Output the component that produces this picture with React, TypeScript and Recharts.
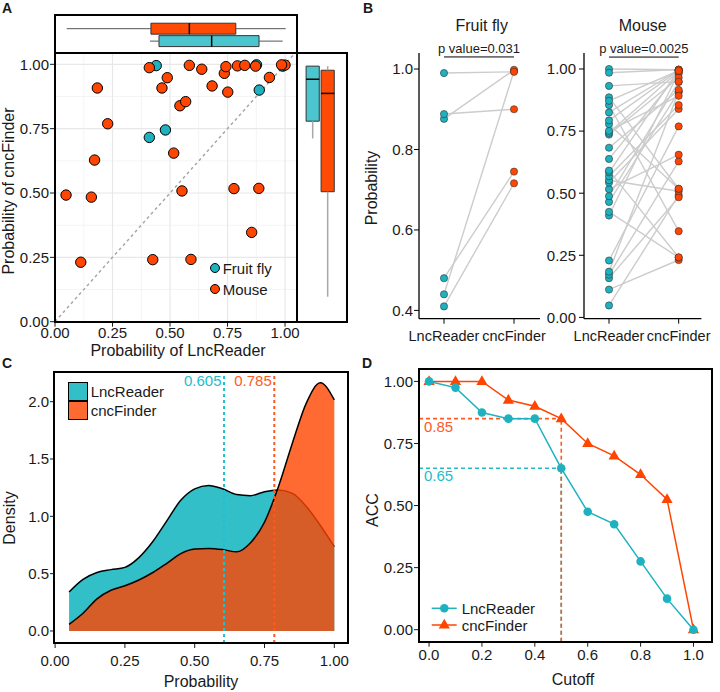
import React from 'react';
import {
  ComposedChart,
  ScatterChart,
  LineChart,
  Scatter,
  Line,
  Area,
  XAxis,
  YAxis,
  CartesianGrid,
  ReferenceLine,
  ReferenceArea,
} from 'recharts';

const FONT = '"Liberation Sans", Arial, sans-serif';
const INK = '#1a1a1a';
const TEAL = '#1EB2C0';
const ORANGE = '#FF4500';
const BOX_TEAL = '#4CC6CE';
const BOX_ORANGE = '#FF4A05';

// A / B : probability per transcript, LncReader vs cncFinder
const flyLnc = [0.41, 0.44, 0.48, 0.876, 0.888, 0.99];
const flyCnc = [0.716, 0.995, 0.745, 0.998, 0.9, 0.993];
const mouseLnc = [
  0.048, 0.112, 0.158, 0.172, 0.184, 0.229, 0.41, 0.425, 0.465, 0.488, 0.516, 0.543, 0.552, 0.568, 0.584,
  0.591, 0.638, 0.683, 0.736, 0.743, 0.751, 0.778, 0.793, 0.825, 0.855, 0.886, 0.932, 1.0, 0.985, 0.872,
];
const mouseCnc = [
  0.492, 0.231, 0.484, 0.628, 0.908, 0.769, 0.987, 0.241, 0.908, 0.948, 0.655, 0.839, 0.508, 0.855, 0.996,
  0.242, 0.981, 0.916, 0.965, 0.991, 0.892, 0.517, 0.994, 0.996, 0.347, 0.518, 0.949, 0.997, 0.998, 0.993,
];

// marginal boxplots [min, q1, median, q3, max]
const lncBoxFly = [0.413, 0.452, 0.681, 0.887, 0.99];
const lncBoxMouse = [0.051, 0.417, 0.584, 0.786, 1.003];
const cncBoxFly = [0.712, 0.779, 0.942, 0.993, 0.993];
const cncBoxMouse = [0.097, 0.505, 0.887, 0.977, 0.993];

const methods = ['LncReader', 'cncFinder'];
const pFly = 'p value=0.031';
const pMouse = 'p value=0.0025';

// C : density of probabilities
const densX = [0.05, 0.1, 0.15, 0.2, 0.25, 0.3, 0.35, 0.4, 0.45, 0.5, 0.55, 0.6, 0.65, 0.7, 0.75, 0.8, 0.85, 0.9, 0.95, 1.0];
const lncDensity = [0.34, 0.45, 0.51, 0.535, 0.555, 0.64, 0.78, 0.96, 1.14, 1.24, 1.27, 1.24, 1.19, 1.18, 1.215, 1.23, 1.2, 1.085, 0.92, 0.735];
const cncDensity = [0.058, 0.154, 0.28, 0.355, 0.395, 0.445, 0.51, 0.59, 0.675, 0.715, 0.72, 0.71, 0.69, 0.77, 0.95, 1.26, 1.64, 1.99, 2.165, 2.015];
const lncMedian = 0.605;
const cncMedian = 0.785;

// D : accuracy vs cutoff
const cutoffs = [0, 0.1, 0.2, 0.3, 0.4, 0.5, 0.6, 0.7, 0.8, 0.9, 1.0];
const accLnc = [1.0, 0.975, 0.875, 0.85, 0.85, 0.65, 0.475, 0.425, 0.275, 0.125, 0.0];
const accCnc = [1.0, 1.0, 1.0, 0.925, 0.9, 0.85, 0.75, 0.7, 0.625, 0.525, 0.0];
const cutAt = 0.5;
const accLncAt = 0.65;
const accCncAt = 0.85;

const ticks4 = [0, 0.25, 0.5, 0.75, 1];
const minor4 = [0.125, 0.375, 0.625, 0.875];

const flyPts = flyLnc.map((x, i) => ({ x, y: flyCnc[i] }));
const mousePts = mouseLnc.map((x, i) => ({ x, y: mouseCnc[i] }));
const densRows = densX.map((x, i) => ({ x, lnc: lncDensity[i], cnc: cncDensity[i] }));
const accRows = cutoffs.map((c, i) => ({ cut: c, lnc: accLnc[i], cnc: accCnc[i] }));

const f1 = (v: number) => v.toFixed(1);
const f2 = (v: number) => v.toFixed(2);
const tick = { fontSize: 15, fill: INK, fontFamily: FONT };
const tickB = { fontSize: 14.5, fill: INK, fontFamily: FONT };

type Rect = { l: number; t: number; r: number; b: number };
const PAD = 3;
function geom(p: Rect, padL: number, padB: number, padT = PAD, padR = PAD) {
  return {
    pos: { position: 'absolute' as const, left: p.l - padL, top: p.t - padT },
    width: p.r - p.l + padL + padR,
    height: p.b - p.t + padT + padB,
    margin: { top: padT, right: padR, left: 0, bottom: 0 },
  };
}

function Frame({ p }: { p: Rect }) {
  return (
    <div
      style={{
        position: 'absolute',
        left: p.l - 1,
        top: p.t - 1,
        width: p.r - p.l + 2,
        height: p.b - p.t + 2,
        border: '2px solid #000',
        boxSizing: 'border-box',
        pointerEvents: 'none',
      }}
    />
  );
}

function Txt(props: { x: number; y: number; text: string; size?: number; color?: string; rotate?: boolean; anchor?: string; bold?: boolean }) {
  const { x, y, text, size = 15, color = INK, rotate = false, anchor = 'middle', bold = false } = props;
  const tx = anchor === 'middle' ? '-50%' : anchor === 'end' ? '-100%' : '0';
  return (
    <div
      style={{
        position: 'absolute',
        left: x,
        top: y,
        transform: `translate(${tx}, -50%)${rotate ? ' rotate(-90deg)' : ''}`,
        whiteSpace: 'nowrap',
        fontSize: size,
        lineHeight: 1,
        fontFamily: FONT,
        color,
        fontWeight: bold ? 700 : 400,
      }}
    >
      {text}
    </div>
  );
}

const RefText = (props: any) => {
  const { viewBox, txt, color, ox, oy, anchor } = props;
  if (!viewBox) return null;
  return (
    <text x={viewBox.x + ox} y={viewBox.y + oy} textAnchor={anchor} fill={color} fontSize={15} fontFamily={FONT}>
      {txt}
    </text>
  );
};

const noDot = () => <g />;
const dotA = (p: any) => <circle cx={p.cx} cy={p.cy} r={5.2} fill={p.fill} stroke="#000" strokeWidth={1} />;
const dotB = (p: any) => <circle cx={p.cx} cy={p.cy} r={3.6} fill={p.fill} stroke="#333" strokeWidth={0.6} />;

function hBox(s: number[], pos: number, fill: string, key: string) {
  const h = 0.44;
  return [
    <ReferenceLine key={key + 'w1'} segment={[{ x: s[0], y: pos }, { x: s[1], y: pos }]} stroke="#555" strokeWidth={1} ifOverflow="visible" />,
    <ReferenceLine key={key + 'w2'} segment={[{ x: s[3], y: pos }, { x: s[4], y: pos }]} stroke="#555" strokeWidth={1} ifOverflow="visible" />,
    <ReferenceArea key={key + 'b'} x1={s[1]} x2={s[3]} y1={pos - h} y2={pos + h} fill={fill} fillOpacity={1} stroke="#333" strokeWidth={1} ifOverflow="visible" />,
    <ReferenceLine key={key + 'm'} segment={[{ x: s[2], y: pos - h }, { x: s[2], y: pos + h }]} stroke="#000" strokeWidth={1.5} ifOverflow="visible" />,
  ];
}

function vBox(s: number[], pos: number, fill: string, key: string) {
  const h = 0.44;
  return [
    <ReferenceLine key={key + 'w1'} segment={[{ x: pos, y: s[0] }, { x: pos, y: s[1] }]} stroke="#A8A8A8" strokeWidth={1.5} ifOverflow="visible" />,
    <ReferenceLine key={key + 'w2'} segment={[{ x: pos, y: s[3] }, { x: pos, y: s[4] }]} stroke="#A8A8A8" strokeWidth={1.5} ifOverflow="visible" />,
    <ReferenceArea key={key + 'b'} x1={pos - h} x2={pos + h} y1={s[1]} y2={s[3]} fill={fill} fillOpacity={1} stroke="#333" strokeWidth={1} ifOverflow="visible" />,
    <ReferenceLine key={key + 'm'} segment={[{ x: pos - h, y: s[2] }, { x: pos + h, y: s[2] }]} stroke="#000" strokeWidth={1.5} ifOverflow="visible" />,
  ];
}

const triangle = (p: any) => (
  <polygon
    key={`tri-${p.index}`}
    points={`${p.cx},${p.cy - 6.2} ${p.cx - 5.6},${p.cy + 3.6} ${p.cx + 5.6},${p.cy + 3.6}`}
    fill={ORANGE}
  />
);
const circleD = (p: any) => <circle key={`cir-${p.index}`} cx={p.cx} cy={p.cy} r={4.3} fill={TEAL} />;

// plot areas (page pixels)
const pA: Rect = { l: 55, t: 53.3, r: 297, b: 322 };
const pAtop: Rect = { l: 55, t: 15, r: 297, b: 53.3 };
const pAright: Rect = { l: 297, t: 53.3, r: 347, b: 322 };
const pBfly: Rect = { l: 419, t: 53.3, r: 540, b: 319 };
const pBmouse: Rect = { l: 584.3, t: 53.3, r: 701.7, b: 319 };
const pC: Rect = { l: 54, t: 372, r: 348, b: 643 };
const pD: Rect = { l: 419, t: 369.3, r: 712, b: 642 };

const xDomA = [0, 1.052];
const yDomA = [0, 1.044];

export default function App() {
  const gA = geom(pA, 55, 30);
  const gAt = geom(pAtop, 0, 0);
  const gAr = geom(pAright, 0, 0);
  const gBf = geom(pBfly, 50, 30, 24, 14);
  const gBm = geom(pBmouse, 40, 30, 24, 16);
  const gC = geom(pC, 54, 30);
  const gD = geom(pD, 50, 30);

  const axisB = { stroke: '#000', strokeWidth: 1.3 };

  return (
    <div style={{ position: 'absolute', left: 0, top: 0, width: 720, height: 692, background: '#fff', fontFamily: FONT }}>
      {/* ---------- A ---------- */}
      <div style={gA.pos}>
        <ScatterChart width={gA.width} height={gA.height} margin={gA.margin}>
          <CartesianGrid stroke="#F1F1F1" strokeWidth={0.8} horizontalValues={minor4} verticalValues={minor4} />
          <CartesianGrid stroke="#E8E8E8" strokeWidth={1.2} />
          <XAxis
            type="number"
            dataKey="x"
            domain={xDomA}
            ticks={ticks4}
            allowDataOverflow
            interval={0}
            tickFormatter={f2}
            height={30}
            tick={tick}
            tickLine={{ stroke: INK }}
            axisLine={false}
            tickSize={5}
            tickMargin={1}
          />
          <YAxis
            type="number"
            dataKey="y"
            domain={yDomA}
            ticks={ticks4}
            allowDataOverflow
            interval={0}
            tickFormatter={f2}
            width={55}
            tick={tick}
            tickLine={{ stroke: INK }}
            axisLine={false}
            tickSize={5}
            tickMargin={1}
          />
          <Scatter
            data={[{ x: 0, y: 0 }, { x: 1.044, y: 1.044 }]}
            line={{ stroke: '#A8A8A8', strokeWidth: 1.5, strokeDasharray: '3 3' }}
            lineType="joint"
            shape={noDot}
            isAnimationActive={false}
          />
          <Scatter data={flyPts} fill={TEAL} shape={dotA} isAnimationActive={false} />
          <Scatter data={mousePts} fill={ORANGE} shape={dotA} isAnimationActive={false} />
        </ScatterChart>
      </div>

      <div style={gAt.pos}>
        <ScatterChart width={gAt.width} height={gAt.height} margin={gAt.margin}>
          <XAxis type="number" dataKey="x" domain={xDomA} allowDataOverflow hide />
          <YAxis type="number" dataKey="y" domain={[0.02, 3.1]} allowDataOverflow hide />
          <Scatter data={[{ x: lncBoxFly[2], y: 1 }, { x: lncBoxMouse[2], y: 2 }]} shape={noDot} isAnimationActive={false} />
          {hBox(lncBoxMouse, 2, BOX_ORANGE, 'tm')}
          {hBox(lncBoxFly, 1, BOX_TEAL, 'tf')}
        </ScatterChart>
      </div>

      <div style={gAr.pos}>
        <ScatterChart width={gAr.width} height={gAr.height} margin={gAr.margin}>
          <XAxis type="number" dataKey="x" domain={[-0.047, 3.29]} allowDataOverflow hide />
          <YAxis type="number" dataKey="y" domain={yDomA} allowDataOverflow hide />
          <Scatter data={[{ x: 1, y: cncBoxFly[2] }, { x: 2, y: cncBoxMouse[2] }]} shape={noDot} isAnimationActive={false} />
          {vBox(cncBoxFly, 1, BOX_TEAL, 'rf')}
          {vBox(cncBoxMouse, 2, BOX_ORANGE, 'rm')}
        </ScatterChart>
      </div>

      <Frame p={pAtop} />
      <Frame p={pA} />
      <Frame p={pAright} />

      {/* legend A */}
      <div style={{ position: 'absolute', left: 209.8, top: 263.1, width: 10.4, height: 10.4, borderRadius: '50%', background: TEAL, border: '1px solid #000', boxSizing: 'border-box' }} />
      <div style={{ position: 'absolute', left: 209.8, top: 284.1, width: 10.4, height: 10.4, borderRadius: '50%', background: ORANGE, border: '1px solid #000', boxSizing: 'border-box' }} />
      <Txt x={222.7} y={268.3} text="Fruit fly" anchor="start" />
      <Txt x={222.7} y={289.3} text="Mouse" anchor="start" />

      <Txt x={2} y={8} text="A" size={14} bold anchor="start" />
      <Txt x={8.5} y={191} text="Probability of cncFinder" size={16} rotate />
      <Txt x={178} y={351} text="Probability of LncReader" size={16} />

      {/* ---------- B ---------- */}
      <div style={gBf.pos}>
        <ScatterChart width={gBf.width} height={gBf.height} margin={gBf.margin}>
          <XAxis
            type="number"
            dataKey="x"
            domain={[0.643, 2.371]}
            ticks={[1, 2]}
            allowDataOverflow
            interval={0}
            tickFormatter={(v: number) => methods[v - 1]}
            height={30}
            tick={tickB}
            tickLine={{ stroke: '#000' }}
            axisLine={axisB}
            tickSize={5}
            tickMargin={7}
          />
          <YAxis
            type="number"
            dataKey="y"
            domain={[0.3794, 1.0398]}
            ticks={[0.4, 0.6, 0.8, 1.0]}
            allowDataOverflow
            interval={0}
            tickFormatter={f1}
            width={50}
            tick={tick}
            tickLine={{ stroke: '#000' }}
            axisLine={axisB}
            tickSize={5}
            tickMargin={1}
          />
          {flyLnc.map((v, i) => (
            <Scatter
              key={`fp${i}`}
              data={[{ x: 1, y: v }, { x: 2, y: flyCnc[i] }]}
              line={{ stroke: '#CCCCCC', strokeWidth: 1.4 }}
              lineType="joint"
              shape={noDot}
              isAnimationActive={false}
            />
          ))}
          <ReferenceLine
            segment={[{ x: 1, y: 1.03 }, { x: 2, y: 1.03 }]}
            stroke="#000"
            strokeWidth={1}
            ifOverflow="visible"
            label={{ value: pFly, position: 'top', fontSize: 13, fill: INK, fontFamily: FONT, offset: 4 }}
          />
          <Scatter data={flyLnc.map((v) => ({ x: 1, y: v }))} fill={TEAL} shape={dotB} isAnimationActive={false} />
          <Scatter data={flyCnc.map((v) => ({ x: 2, y: v }))} fill={ORANGE} shape={dotB} isAnimationActive={false} />
        </ScatterChart>
      </div>

      <div style={gBm.pos}>
        <ScatterChart width={gBm.width} height={gBm.height} margin={gBm.margin}>
          <XAxis
            type="number"
            dataKey="x"
            domain={[0.641, 2.326]}
            ticks={[1, 2]}
            allowDataOverflow
            interval={0}
            tickFormatter={(v: number) => methods[v - 1]}
            height={30}
            tick={tickB}
            tickLine={{ stroke: '#000' }}
            axisLine={axisB}
            tickSize={5}
            tickMargin={7}
          />
          <YAxis
            type="number"
            dataKey="y"
            domain={[-0.0052, 1.0644]}
            ticks={ticks4}
            allowDataOverflow
            interval={0}
            tickFormatter={f2}
            width={40}
            tick={tick}
            tickLine={{ stroke: '#000' }}
            axisLine={axisB}
            tickSize={5}
            tickMargin={3}
          />
          {mouseLnc.map((v, i) => (
            <Scatter
              key={`mp${i}`}
              data={[{ x: 1, y: v }, { x: 2, y: mouseCnc[i] }]}
              line={{ stroke: '#CCCCCC', strokeWidth: 1.4 }}
              lineType="joint"
              shape={noDot}
              isAnimationActive={false}
            />
          ))}
          <ReferenceLine
            segment={[{ x: 1, y: 1.048 }, { x: 2, y: 1.048 }]}
            stroke="#000"
            strokeWidth={1}
            ifOverflow="visible"
            label={{ value: pMouse, position: 'top', fontSize: 13, fill: INK, fontFamily: FONT, offset: 4 }}
          />
          <Scatter data={mouseLnc.map((v) => ({ x: 1, y: v }))} fill={TEAL} shape={dotB} isAnimationActive={false} />
          <Scatter data={mouseCnc.map((v) => ({ x: 2, y: v }))} fill={ORANGE} shape={dotB} isAnimationActive={false} />
        </ScatterChart>
      </div>

      <Txt x={363} y={8} text="B" size={14} bold anchor="start" />
      <Txt x={481.7} y={26} text="Fruit fly" size={16} />
      <Txt x={642.7} y={26} text="Mouse" size={16} />
      <Txt x={372} y={188} text="Probability" size={16} rotate />

      {/* ---------- C ---------- */}
      <div style={gC.pos}>
        <ComposedChart width={gC.width} height={gC.height} margin={gC.margin} data={densRows}>
          <XAxis
            type="number"
            dataKey="x"
            domain={[-0.004, 1.049]}
            ticks={ticks4}
            allowDataOverflow
            interval={0}
            tickFormatter={f2}
            height={30}
            tick={tick}
            tickLine={{ stroke: INK }}
            axisLine={false}
            tickSize={5}
            tickMargin={7}
          />
          <YAxis
            type="number"
            domain={[-0.105, 2.259]}
            ticks={[0, 0.5, 1, 1.5, 2]}
            allowDataOverflow
            interval={0}
            tickFormatter={f1}
            width={54}
            tick={tick}
            tickLine={{ stroke: INK }}
            axisLine={false}
            tickSize={4}
            tickMargin={1}
          />
          <Area type="monotone" dataKey="lnc" fill="#33BFC8" fillOpacity={1} stroke="#000" strokeWidth={1.5} baseValue={0} dot={false} activeDot={false} isAnimationActive={false} />
          <Area type="monotone" dataKey="cnc" fill={ORANGE} fillOpacity={0.8} stroke="#000" strokeWidth={1.5} baseValue={0} dot={false} activeDot={false} isAnimationActive={false} />
          <ReferenceLine
            x={lncMedian}
            stroke="#22C0CC"
            strokeWidth={2}
            strokeDasharray="3 3"
            label={<RefText txt={lncMedian.toFixed(3)} color="#22BCC8" ox={-2.5} oy={13.5} anchor="end" />}
          />
          <ReferenceLine
            x={cncMedian}
            stroke="#FF5A1F"
            strokeWidth={2}
            strokeDasharray="3 3"
            label={<RefText txt={cncMedian.toFixed(3)} color="#FF5A24" ox={-2.5} oy={13.5} anchor="end" />}
          />
        </ComposedChart>
      </div>
      <Frame p={pC} />

      {/* legend C */}
      <div style={{ position: 'absolute', left: 68, top: 382, width: 19.5, height: 19, background: '#33BFC8', border: '1.5px solid #000', boxSizing: 'border-box' }} />
      <div style={{ position: 'absolute', left: 68, top: 400.5, width: 19.5, height: 19, background: '#FF6A33', border: '1.5px solid #000', boxSizing: 'border-box' }} />
      <Txt x={90.7} y={390.5} text={methods[0]} anchor="start" />
      <Txt x={90.7} y={410} text={methods[1]} anchor="start" />

      <Txt x={2} y={363} text="C" size={14} bold anchor="start" />
      <Txt x={10} y={518} text="Density" size={16} rotate />
      <Txt x={201} y={682} text="Probability" size={16} />

      {/* ---------- D ---------- */}
      <div style={gD.pos}>
        <LineChart width={gD.width} height={gD.height} margin={gD.margin} data={accRows}>
          <XAxis
            type="number"
            dataKey="cut"
            domain={[-0.038, 1.07]}
            ticks={[0, 0.2, 0.4, 0.6, 0.8, 1.0]}
            allowDataOverflow
            interval={0}
            tickFormatter={f1}
            height={30}
            tick={tick}
            tickLine={{ stroke: INK }}
            axisLine={false}
            tickSize={5}
            tickMargin={3}
          />
          <YAxis
            type="number"
            domain={[-0.0483, 1.05]}
            ticks={ticks4}
            allowDataOverflow
            interval={0}
            tickFormatter={f2}
            width={50}
            tick={tick}
            tickLine={{ stroke: INK }}
            axisLine={false}
            tickSize={5}
            tickMargin={1}
          />
          <ReferenceLine
            segment={[{ x: -0.038, y: accLncAt }, { x: cutAt, y: accLncAt }]}
            stroke="#22BCC8"
            strokeWidth={1.6}
            strokeDasharray="4 3"
            ifOverflow="visible"
            label={<RefText txt={accLncAt.toFixed(2)} color="#22BCC8" ox={5} oy={12.5} anchor="start" />}
          />
          <ReferenceLine
            segment={[{ x: cutAt, y: -0.0483 }, { x: cutAt, y: accLncAt }]}
            stroke="#22BCC8"
            strokeWidth={1.6}
            strokeDasharray="4 3"
            ifOverflow="visible"
          />
          <ReferenceLine
            segment={[{ x: -0.038, y: accCncAt }, { x: cutAt, y: accCncAt }]}
            stroke="#FF5A1F"
            strokeWidth={1.6}
            strokeDasharray="4 3"
            ifOverflow="visible"
            label={<RefText txt={accCncAt.toFixed(2)} color="#FF5A24" ox={5} oy={13} anchor="start" />}
          />
          <ReferenceLine
            segment={[{ x: cutAt, y: -0.0483 }, { x: cutAt, y: accCncAt }]}
            stroke="#FF5A1F"
            strokeWidth={1.6}
            strokeDasharray="4 3"
            ifOverflow="visible"
          />
          <Line type="linear" dataKey="cnc" stroke={ORANGE} strokeWidth={1.5} dot={triangle} activeDot={false} isAnimationActive={false} />
          <Line type="linear" dataKey="lnc" stroke={TEAL} strokeWidth={1.5} dot={circleD} activeDot={false} isAnimationActive={false} />
        </LineChart>
      </div>
      <Frame p={pD} />

      {/* legend D */}
      <svg style={{ position: 'absolute', left: 428, top: 598 }} width={32} height={36}>
        <line x1={3.7} x2={28.7} y1={10.3} y2={10.3} stroke={TEAL} strokeWidth={1.5} />
        <circle cx={16.3} cy={10.3} r={4.3} fill={TEAL} />
        <line x1={3.7} x2={28.7} y1={27} y2={27} stroke={ORANGE} strokeWidth={1.5} />
        <polygon points="16.3,20.8 10.7,30.6 21.9,30.6" fill={ORANGE} />
      </svg>
      <Txt x={461.7} y={608.3} text={methods[0]} anchor="start" />
      <Txt x={461.7} y={625} text={methods[1]} anchor="start" />

      <Txt x={362} y={363} text="D" size={14} bold anchor="start" />
      <Txt x={373.3} y={510} text="ACC" size={16} rotate />
      <Txt x={573} y={680} text="Cutoff" size={16} />
    </div>
  );
}
